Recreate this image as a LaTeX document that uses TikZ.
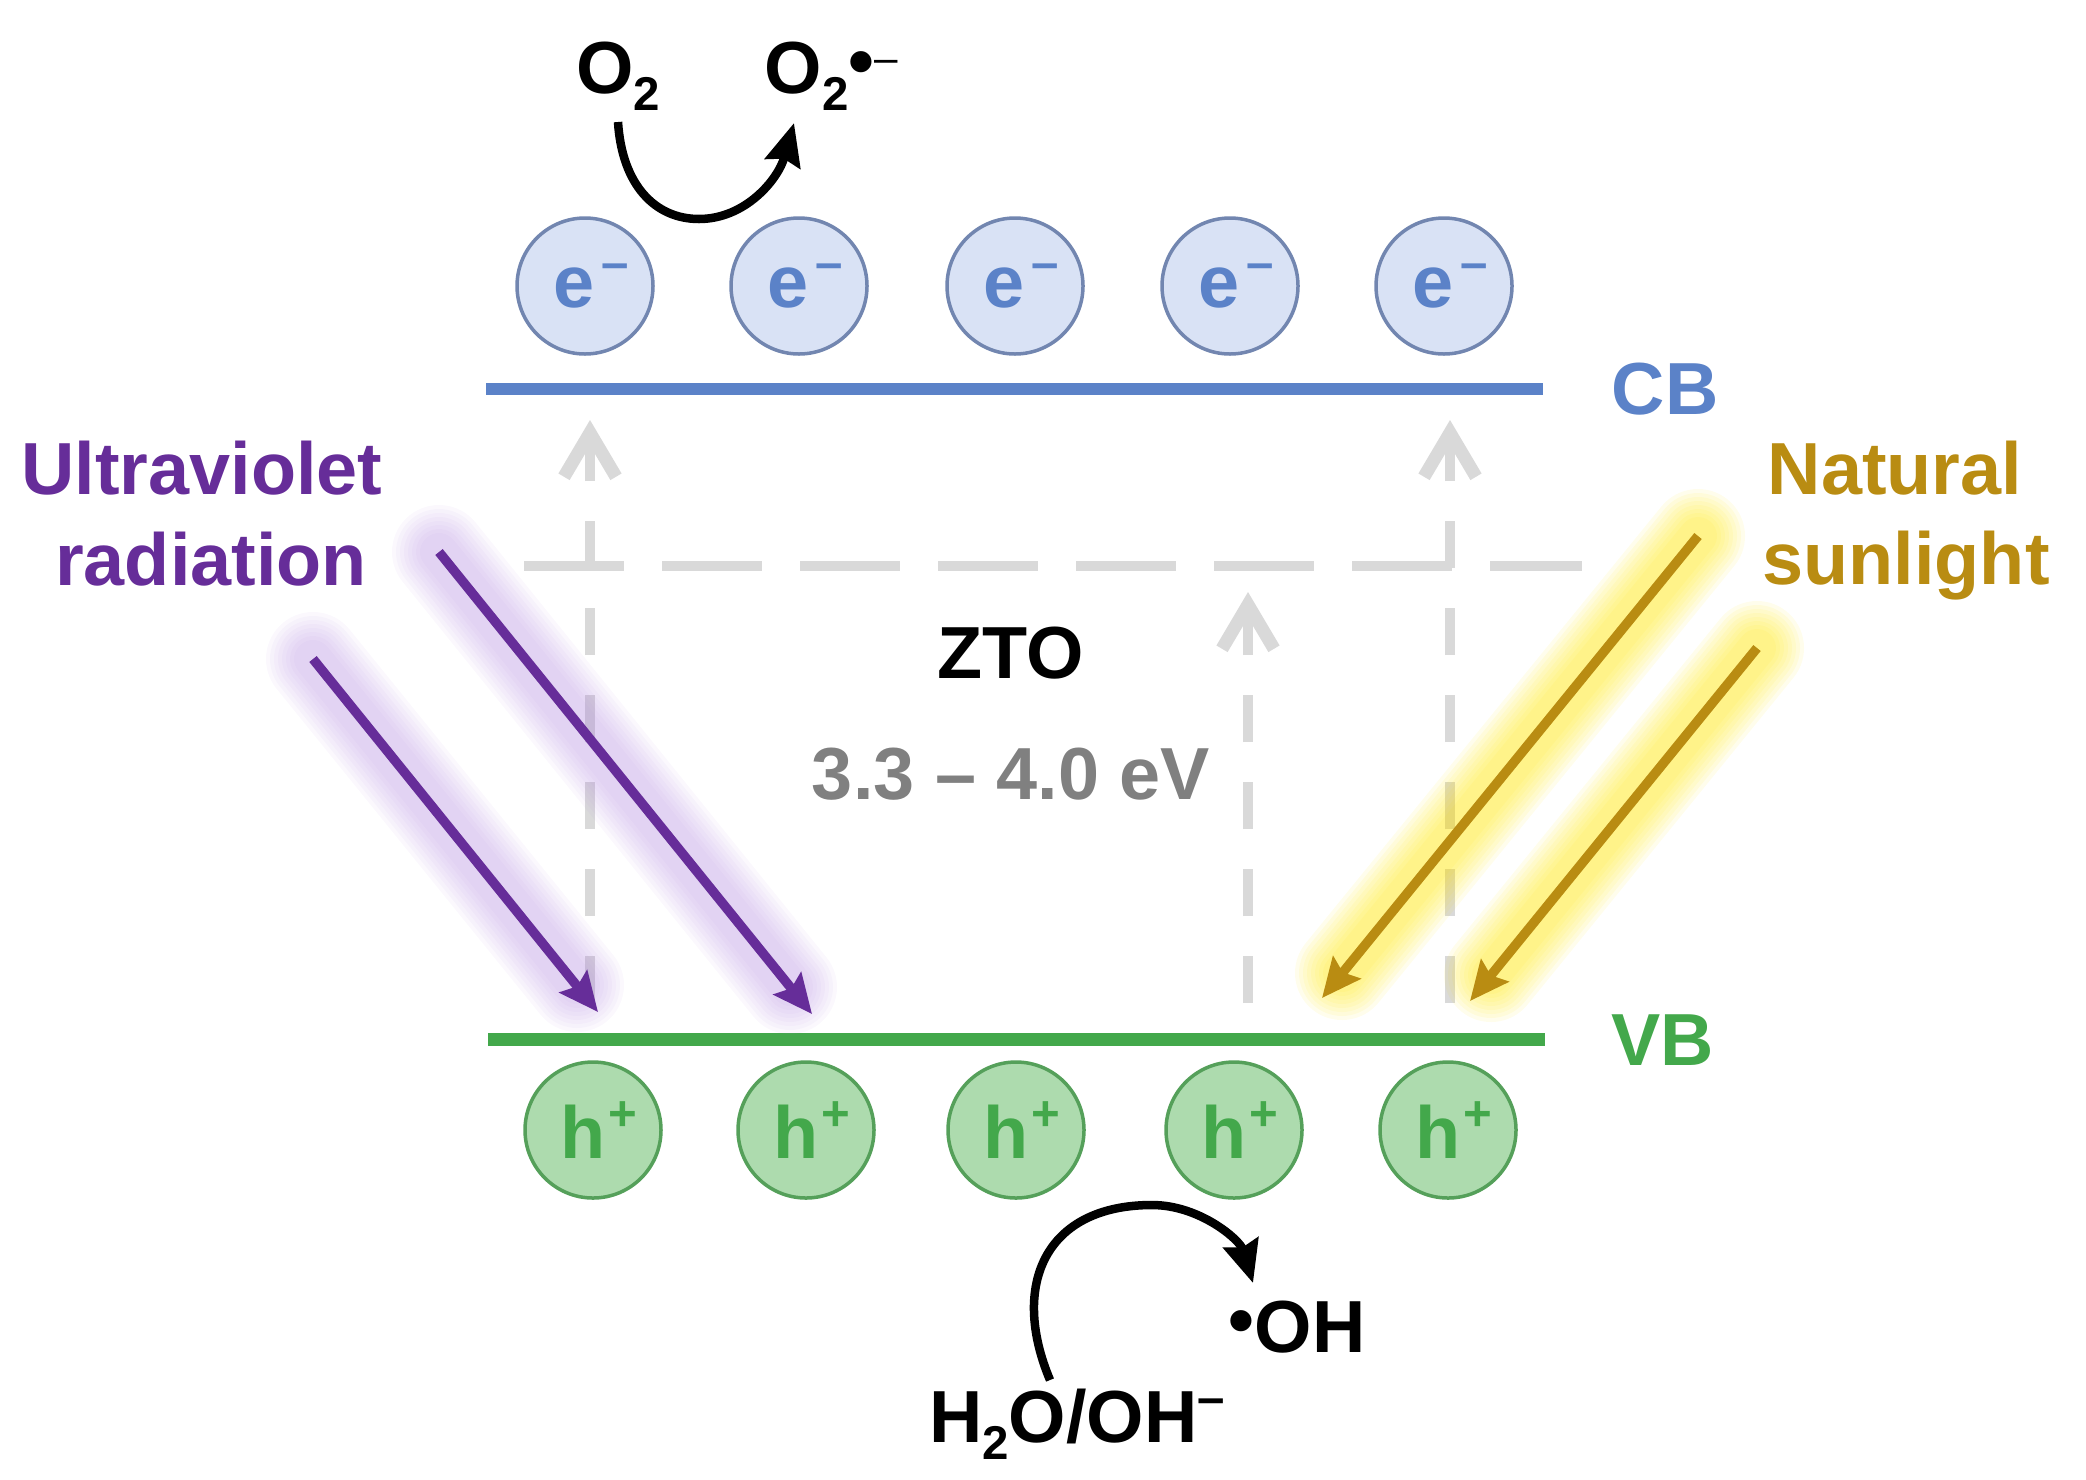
\documentclass[tikz,border=0pt]{standalone}
\usepackage{fontspec}
\setmainfont{Liberation Sans}
\usepackage{xcolor}
\usetikzlibrary{arrows.meta}
\definecolor{cbblue}{HTML}{5B82C8}
\definecolor{cbfill}{HTML}{D9E2F5}
\definecolor{cbedge}{HTML}{7286B0}
\definecolor{vbgreen}{HTML}{43A84B}
\definecolor{vbfill}{HTML}{ADDBAE}
\definecolor{vbedge}{HTML}{55A05A}
\definecolor{uvpurple}{HTML}{662D99}
\definecolor{uvhalo}{HTML}{B48CE0}
\definecolor{sunamber}{HTML}{B98C12}
\definecolor{sunhalo}{HTML}{FFE600}
\definecolor{gapgray}{HTML}{D9D9D9}
\newcommand{\lowtwo}{\raisebox{-0.23em}{\fontsize{13.5}{14}\selectfont 2}}
\newcommand{\highup}[1]{\raisebox{0.38em}{\fontsize{14}{15}\selectfont #1}}
\newcommand{\unpaired}{\raisebox{0.09em}{•}}
\newcommand{\echarge}{\kern3.4pt e\kern2pt\highup{–}}
\newcommand{\hcharge}{\kern3.4pt h\kern1pt\highup{+}}
\tikzset{
  boldtext/.style={font=\fontsize{21}{25}\selectfont\bfseries, inner sep=0pt, align=center},
  electron/.style={circle, draw=cbedge, fill=cbfill, line width=0.35mm, minimum size=13.6mm, inner sep=0pt, text=cbblue, boldtext},
  hole/.style={circle, draw=vbedge, fill=vbfill, line width=0.35mm, minimum size=13.6mm, inner sep=0pt, text=vbgreen, boldtext},
  gaparrow/.style={gapgray, line width=1mm, dash pattern=on 4.7mm off 4mm, -{Straight Barb[length=4.4mm,width=5.2mm,line width=1.3mm]}},
  raysharp/.style={line width=0.95mm, -{Stealth[length=3.9mm,width=3.5mm,inset=0.6mm]}},
  uvlayer/.style={preaction={draw=uvhalo, line cap=round, opacity=0.06, line width=#1}},
  sunlayer/.style={preaction={draw=sunhalo, line cap=round, opacity=0.075, line width=#1}},
  uvglow/.style={uvlayer=9.4mm, uvlayer=8.6mm, uvlayer=7.8mm, uvlayer=7mm, uvlayer=6.2mm, uvlayer=5.4mm, uvlayer=4.6mm, uvlayer=3.8mm},
  sunglow/.style={sunlayer=9.4mm, sunlayer=8.6mm, sunlayer=7.8mm, sunlayer=7mm, sunlayer=6.2mm, sunlayer=5.4mm, sunlayer=4.6mm, sunlayer=3.8mm},
  reaction/.style={black, line width=0.85mm, -{Stealth[length=4.2mm,width=3.6mm,inset=0.5mm]}}
}
\begin{document}
\begin{tikzpicture}[x=0.1mm, y=-0.1mm]
  \useasboundingbox (0,0) rectangle (2086,1479);
  \coordinate (gapleftS) at (590,1003);
  \coordinate (gapleftN) at (590,420);
  \coordinate (gapmidS) at (1248,1003);
  \coordinate (gapmidN) at (1248,592);
  \coordinate (gaprightS) at (1450,1003);
  \coordinate (gaprightN) at (1450,420);
  \coordinate (uvoneA) at (439,552);
  \coordinate (uvoneB) at (812,1014);
  \coordinate (uvtwoA) at (313,659);
  \coordinate (uvtwoB) at (598,1012);
  \coordinate (sunoneA) at (1698,536);
  \coordinate (sunoneB) at (1322,998);
  \coordinate (suntwoA) at (1757,648);
  \coordinate (suntwoB) at (1470,1001);
  \coordinate (oxyA) at (618,122);
  \coordinate (oxyB) at (794,123);
  \coordinate (waterA) at (1050,1380);
  \coordinate (waterB) at (1253,1283);
  \coordinate (uvhaloone) at (790,987);
  \coordinate (uvhalotwo) at (577,985);
  \coordinate (sunhaloone) at (1342,973);
  \coordinate (sunhalotwo) at (1491,975);
  \draw[gapgray, line width=1mm, dash pattern=on 10mm off 3.8mm] (524,566) -- (1582,566);
  \draw[gaparrow] (gapleftS) -- (gapleftN);
  \draw[gaparrow] (gapmidS) -- (gapmidN);
  \draw[gaparrow] (gaprightS) -- (gaprightN);
  \draw[cbblue, line width=1.25mm] (486,389) -- (1543,389);
  \draw[vbgreen, line width=1.3mm] (488,1039) -- (1545,1039);
  \path[uvglow] (uvoneA) -- (uvhaloone);
  \path[uvglow] (uvtwoA) -- (uvhalotwo);
  \path[sunglow] (sunoneA) -- (sunhaloone);
  \path[sunglow] (suntwoA) -- (sunhalotwo);
  \draw[raysharp, uvpurple] (uvoneA) -- (uvoneB);
  \draw[raysharp, uvpurple] (uvtwoA) -- (uvtwoB);
  \draw[raysharp, sunamber] (sunoneA) -- (sunoneB);
  \draw[raysharp, sunamber] (suntwoA) -- (suntwoB);
  \node[electron] (eone) at (585,286) {\echarge};
  \node[electron] (etwo) at (799,286) {\echarge};
  \node[electron] (ethree) at (1015,286) {\echarge};
  \node[electron] (efour) at (1230,286) {\echarge};
  \node[electron] (efive) at (1444,286) {\echarge};
  \node[hole] (hone) at (593,1130) {\hcharge};
  \node[hole] (htwo) at (806,1130) {\hcharge};
  \node[hole] (hthree) at (1016,1130) {\hcharge};
  \node[hole] (hfour) at (1234,1130) {\hcharge};
  \node[hole] (hfive) at (1448,1130) {\hcharge};
  \draw[reaction] (oxyA) .. controls (622,185) and (655,219) .. (699,219) .. controls (745,219) and (778,180) .. (oxyB);
  \draw[reaction] (waterA) .. controls (1010,1285) and (1045,1205) .. (1152,1205) .. controls (1200,1205) and (1240,1240) .. (waterB);
  \node[boldtext, text=cbblue] (cblabel) at (1665,389) {CB};
  \node[boldtext, text=vbgreen] (vblabel) at (1663,1040) {VB};
  \node[boldtext, text=uvpurple] (uvtop) at (202,468) {Ultraviolet};
  \node[boldtext, text=uvpurple] (uvbottom) at (211,559) {radiation};
  \node[boldtext, text=sunamber] (suntop) at (1895,468) {Natural};
  \node[boldtext, text=sunamber] (sunbottom) at (1906,566) {sunlight};
  \node[boldtext] (ztolabel) at (1011,653) {ZTO};
  \node[boldtext, text=black!50] (gaplabel) at (1011,774) {3.3 – 4.0 eV};
  \node[boldtext] (oxygen) at (618,76) {O\lowtwo};
  \node[boldtext, anchor=west] (radical) at (764,76) {O\lowtwo\unpaired\raisebox{6pt}{\fontsize{12}{13}\selectfont\mdseries –}};
  \node[boldtext] (hydroxyl) at (1297,1327) {\unpaired OH};
  \node[boldtext] (water) at (1077,1424) {H\lowtwo O/OH\highup{–}};
\end{tikzpicture}
\end{document}
